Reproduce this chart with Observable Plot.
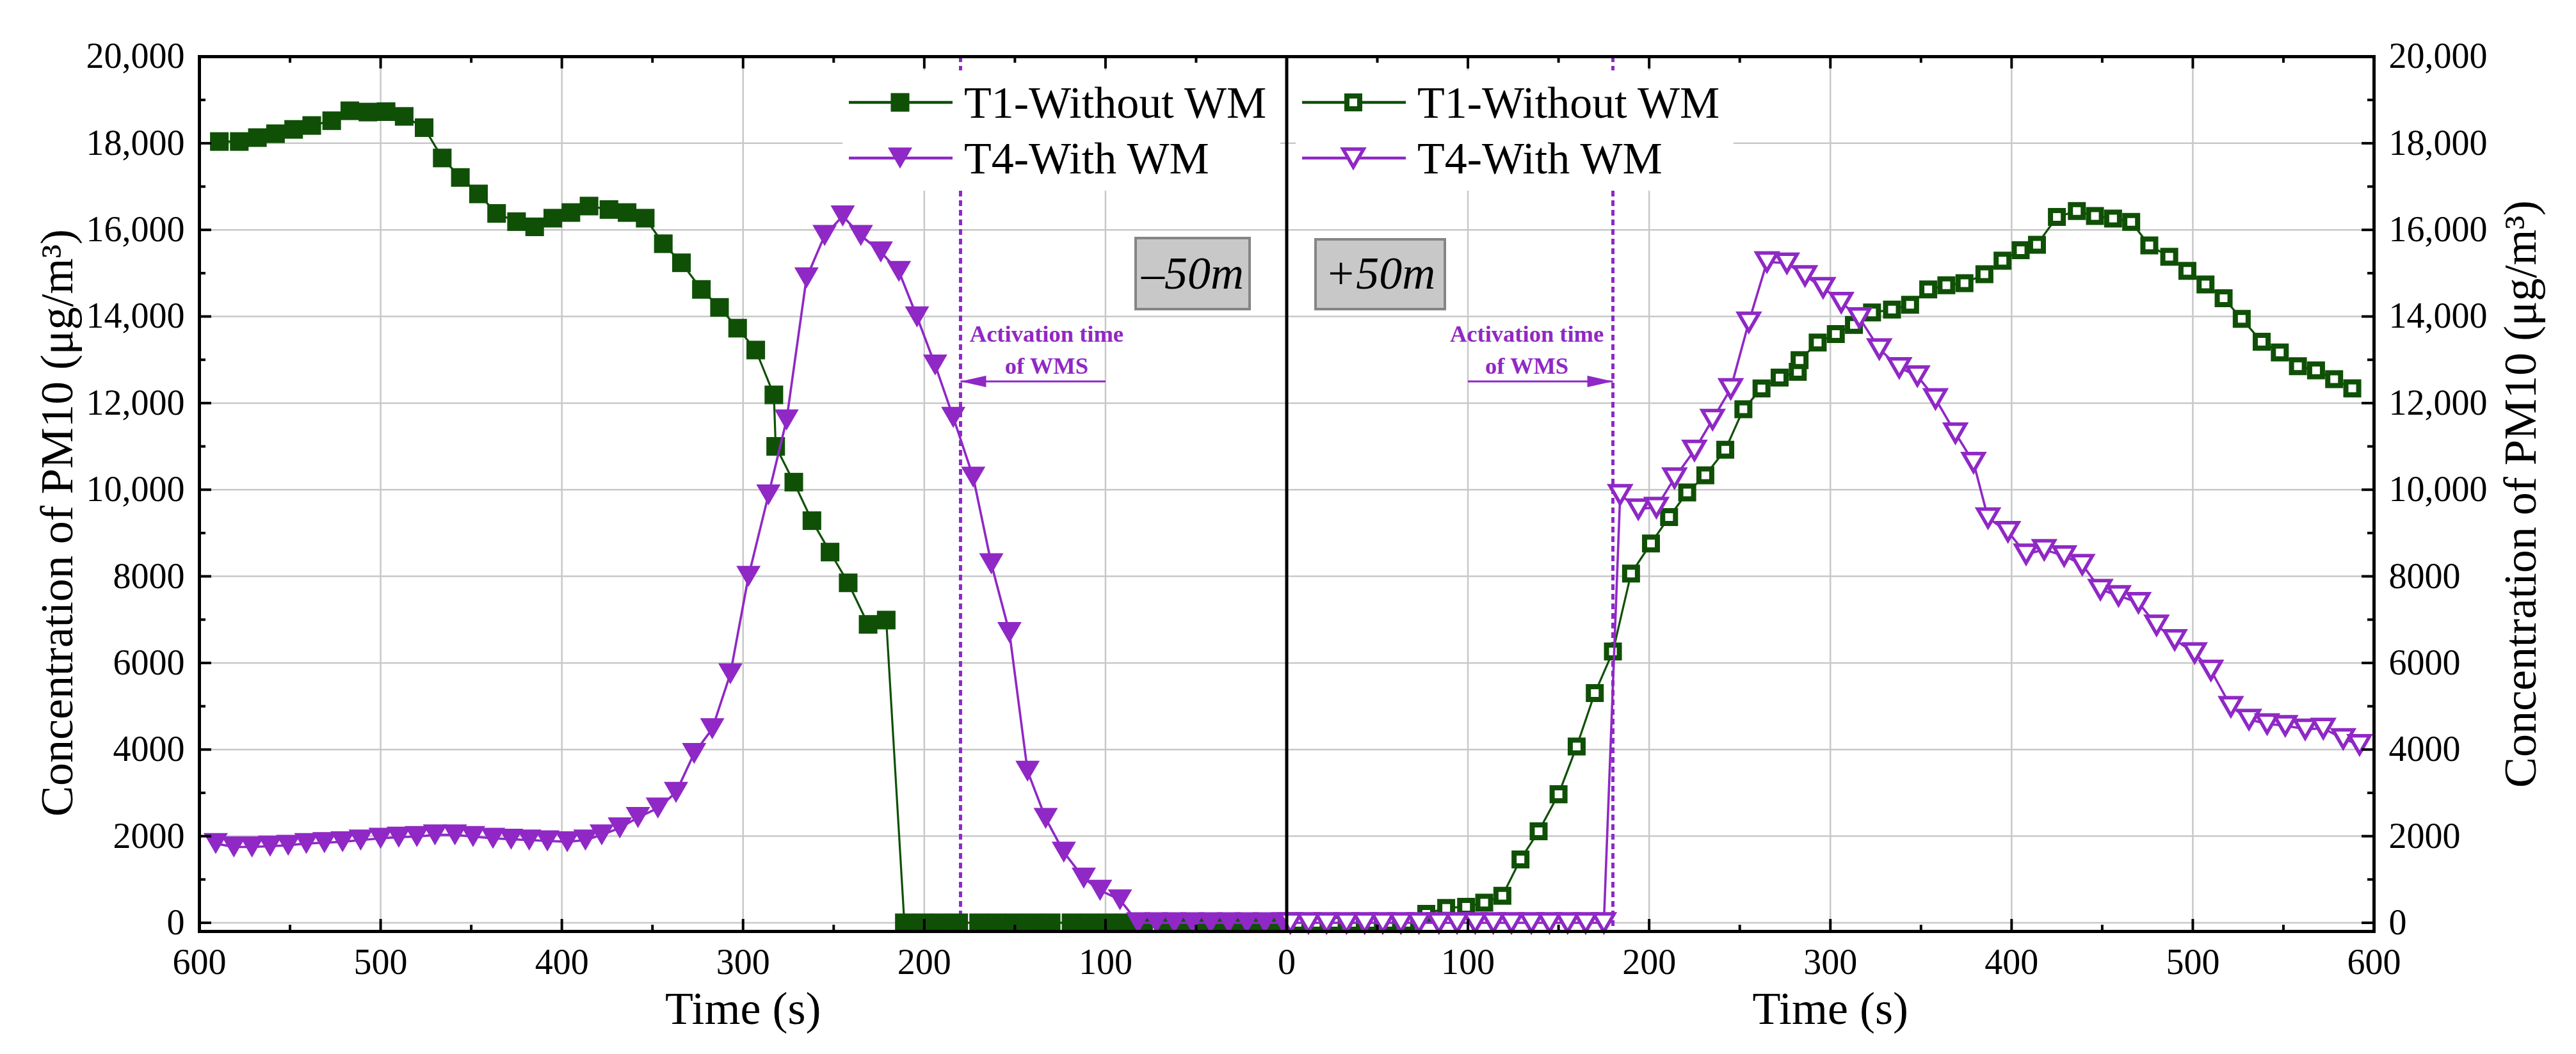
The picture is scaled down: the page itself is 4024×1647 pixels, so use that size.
<!DOCTYPE html>
<html>
<head>
<meta charset="utf-8">
<script src="https://cdn.jsdelivr.net/npm/d3@7"></script>
<script src="https://cdn.jsdelivr.net/npm/@observablehq/plot@0.6"></script>
<style>
  html, body { margin: 0; padding: 0; background: #fff; }
  #chart { position: relative; width: 4024px; height: 1647px; }
</style>
</head>
<body>
<div id="chart"></div>
<script>
// ---------------- DATA ----------------
// Left panel (-50 m): time runs 600 -> 0 from left to right
const leftT1Time = [589,578,568,558,548,538,527,517,507,497,487,476,466,456,446,436,425,415,405,395,385,374,364,354,344,334,323,313,303,293,283,282,272,262,252,242,231,221,211,201,191,181,170,160,150,140,130,119,109,99,89,79,68,58,48,38,28,17,7];
const leftT1Value = [18040,18040,18130,18220,18320,18410,18520,18750,18720,18730,18620,18360,17660,17210,16830,16380,16190,16070,16270,16400,16550,16470,16400,16270,15680,15240,14625,14210,13730,13225,12190,11000,10175,9285,8560,7850,6890,6990,0,0,0,0,0,0,0,0,0,0,0,0,0,0,0,0,0,0,0,0,0];

const leftT4Time = [591,581,571,561,551,541,531,521,511,500,490,480,470,459,449,438,428,418,408,397,387,378,368,358,347,337,327,317,307,297,286,276,265,255,245,235,224,214,204,194,184,173,163,153,143,133,123,112,103,92,82,72,62,52,42,32,22,12,2];
const leftT4Value = [1830,1750,1750,1770,1790,1830,1850,1870,1910,1950,1975,1990,2030,2030,1990,1950,1930,1910,1890,1870,1910,2030,2190,2430,2650,3010,3910,4480,5750,8000,9880,11610,14890,15870,16320,15870,15490,15040,13990,12880,11670,10290,8290,6700,3500,2410,1630,1030,750,530,0,0,0,0,0,0,0,0,0];

// Right panel (+50 m): time runs 0 -> 600 from left to right
const rightT1Time = [6,16,26,36,46,56,66,77,88,99,109,119,129,139,150,160,170,180,190,201,211,221,231,242,252,262,272,282,283,293,303,313,323,334,344,354,364,374,385,395,405,414,425,436,446,456,466,476,487,497,507,517,527,538,548,558,568,578,588];
const rightT1Value = [0,0,0,0,0,0,0,208,344,368,464,624,1464,2112,2968,4072,5304,6264,8064,8760,9369,9936,10331,10922,11859,12337,12588,12722,12993,13397,13594,13806,14092,14160,14270,14625,14720,14770,14975,15288,15530,15657,16298,16434,16321,16261,16185,15642,15379,15054,14738,14421,13946,13418,13169,12853,12755,12551,12340];

const rightT4Time = [2,12,22,33,43,53,63,73,84,94,104,114,124,135,145,155,165,175,184,194,204,214,225,235,245,255,265,276,286,296,306,316,327,338,348,358,369,379,387,398,408,418,429,439,449,459,470,480,490,501,510,521,531,541,551,562,572,583,592];
const rightT4Value = [0,0,0,0,0,0,0,0,0,0,0,0,0,0,0,0,0,0,9887,9556,9591,10271,10912,11622,12332,13870,15261,15231,14940,14669,14324,13969,13254,12815,12627,12099,11308,10629,9347,9032,8512,8616,8472,8272,7696,7552,7392,6872,6536,6232,5832,4992,4696,4592,4552,4472,4488,4248,4112];

// Series names, panel labels, annotation
const seriesNames = ["T1-Without WM", "T4-With WM"];
const panelLabels = ["\u201350m", "+50m"];
const activationTime = 180;          // s, WMS switched on
const activationArrowFrom = 100;     // s
const activationArrowLevel = 12500;  // µg/m3
const activationTextTime = 132.5;
const activationTextLevels = [13424, 12685];
const activationText = ["Activation time", "of WMS"];

// Axes
const xTickLabels = [-600,-500,-400,-300,-200,-100,0,100,200,300,400,500,600];
const xMajorTicks = [-500,-400,-300,-200,-100,100,200,300,400,500];
const xMinorTicks = [-550,-450,-350,-250,-150,-50,50,150,250,350,450,550];
const yTickLabels = [0,2000,4000,6000,8000,10000,12000,14000,16000,18000,20000];
const yMajorTicks = [0,2000,4000,6000,8000,10000,12000,14000,16000,18000];
const yMinorTicks = [1000,3000,5000,7000,9000,11000,13000,15000,17000,19000];
const xTitle = "Time (s)";
const xTitleCenters = [-300, 300];
const yTitle = "Concentration of PM10 (\u03bcg/m\u00b3)";

// ---------------- STYLE / LAYOUT ----------------
const GREEN = "#0f5006";
const PURPLE = "#8f28c5";
const GRID = "#c8c8c8";
const W = 4024, H = 1647, ML = 311, MR = 316, MT = 88, MB = 192;
const PW = W - ML - MR, PH = H - MT - MB;
const FONT = "'Liberation Serif', 'Times New Roman', serif";

// sign: -1 puts a series on the left (mirrored) panel, +1 on the right panel
const toRows = (times, values, sign) => times.map((t, i) => ({x: sign * t, v: values[i]}));
const leftT1 = toRows(leftT1Time, leftT1Value, -1);
const leftT4 = toRows(leftT4Time, leftT4Value, -1);
const rightT1 = toRows(rightT1Time, rightT1Value, 1);
const rightT4 = toRows(rightT4Time, rightT4Value, 1);

const activationRules = [-activationTime, activationTime];
const arrows = [
  {x1: -activationArrowFrom, x2: -activationTime, y: activationArrowLevel, dir: "left"},
  {x1: activationArrowFrom, x2: activationTime, y: activationArrowLevel, dir: "right"}
];
const activationLabels = [];
for (const s of [-1, 1]) activationText.forEach((t, i) => activationLabels.push({x: s * activationTextTime, y: activationTextLevels[i], text: t}));

// symbols
const triDown = {
  draw(ctx, size) {
    const s = Math.sqrt(size / (3 * Math.sqrt(3)));
    const w = Math.sqrt(3) * s, h = 1.5 * s;
    ctx.moveTo(-w, -h); ctx.lineTo(w, -h); ctx.lineTo(0, h); ctx.closePath();
  }
};
const headLeft = {draw(ctx) { ctx.moveTo(0, 0); ctx.lineTo(40, -9); ctx.lineTo(40, 9); ctx.closePath(); }};
const headRight = {draw(ctx) { ctx.moveTo(0, 0); ctx.lineTo(-40, -9); ctx.lineTo(-40, 9); ctx.closePath(); }};

const yFmt = d => d >= 10000 ? d3.format(",")(d) : String(d);

const R_FSQ = 16.4, R_FTRI = 14.1, R_OSQ = 11.3, R_OTRI = 11.9;

const chart = Plot.plot({
  width: W, height: H,
  marginLeft: ML, marginRight: MR, marginTop: MT, marginBottom: MB,
  x: {domain: [-600, 600]},
  y: {domain: [-200, 20000]},
  style: {fontFamily: FONT, fontSize: "56px", color: "black", background: "white", overflow: "visible"},
  marks: [
    // grid
    Plot.ruleX(xMajorTicks, {stroke: GRID, strokeWidth: 2.5}),
    Plot.ruleY(yMajorTicks, {stroke: GRID, strokeWidth: 2.5}),
    // activation time
    Plot.ruleX(activationRules, {stroke: PURPLE, strokeWidth: 5, strokeDasharray: "9,6"}),
    Plot.link(arrows, {x1: "x1", x2: "x2", y1: "y", y2: "y", stroke: PURPLE, strokeWidth: 3}),
    Plot.dot(arrows.filter(d => d.dir === "left"), {x: "x2", y: "y", symbol: headLeft, fill: PURPLE, stroke: "none"}),
    Plot.dot(arrows.filter(d => d.dir === "right"), {x: "x2", y: "y", symbol: headRight, fill: PURPLE, stroke: "none"}),
    Plot.text(activationLabels, {x: "x", y: "y", text: "text", fill: PURPLE, fontWeight: "bold", fontSize: 36.5, lineAnchor: "bottom", textAnchor: "middle"}),
    // series
    Plot.line(leftT1, {x: "x", y: "v", stroke: GREEN, strokeWidth: 3.2}),
    Plot.dot(leftT1, {x: "x", y: "v", symbol: "square", r: R_FSQ, fill: GREEN, stroke: "none"}),
    Plot.line(leftT4, {x: "x", y: "v", stroke: PURPLE, strokeWidth: 3.6}),
    Plot.dot(leftT4, {x: "x", y: "v", symbol: triDown, r: R_FTRI, fill: PURPLE, stroke: "none"}),
    Plot.line(rightT1, {x: "x", y: "v", stroke: GREEN, strokeWidth: 3.2}),
    Plot.dot(rightT1, {x: "x", y: "v", symbol: "square", r: R_OSQ, fill: "white", stroke: GREEN, strokeWidth: 8}),
    Plot.line(rightT4, {x: "x", y: "v", stroke: PURPLE, strokeWidth: 3.6}),
    Plot.dot(rightT4, {x: "x", y: "v", symbol: triDown, r: R_OTRI, fill: "white", stroke: PURPLE, strokeWidth: 5.5}),
    // panel divider & frame
    Plot.ruleX([0], {stroke: "black", strokeWidth: 5}),
    Plot.frame({stroke: "black", strokeWidth: 5}),
    // inward ticks
    Plot.ruleX(xMajorTicks, {stroke: "black", strokeWidth: 4, insetTop: PH - 19}),
    Plot.ruleX(xMinorTicks, {stroke: "black", strokeWidth: 4, insetTop: PH - 10}),
    Plot.ruleX(xMajorTicks, {stroke: "black", strokeWidth: 4, insetBottom: PH - 19}),
    Plot.ruleX(xMinorTicks, {stroke: "black", strokeWidth: 4, insetBottom: PH - 10}),
    Plot.ruleY(yMajorTicks, {stroke: "black", strokeWidth: 4, insetRight: PW - 19}),
    Plot.ruleY(yMinorTicks, {stroke: "black", strokeWidth: 4, insetRight: PW - 10}),
    Plot.ruleY(yMajorTicks, {stroke: "black", strokeWidth: 4, insetLeft: PW - 19}),
    Plot.ruleY(yMinorTicks, {stroke: "black", strokeWidth: 4, insetLeft: PW - 10}),
    // tick labels
    Plot.axisX({anchor: "bottom", ticks: xTickLabels, tickFormat: d => String(Math.abs(d)), tickSize: 0, tickPadding: 27, fontSize: 56, label: null}),
    Plot.axisY({anchor: "left", ticks: yTickLabels, tickFormat: yFmt, tickSize: 0, tickPadding: 23, fontSize: 56, label: null}),
    Plot.axisY({anchor: "right", ticks: yTickLabels, tickFormat: yFmt, tickSize: 0, tickPadding: 23, fontSize: 56, label: null}),
    // axis titles
    Plot.text(xTitleCenters, {x: d => d, text: () => xTitle, frameAnchor: "bottom", dy: 144, lineAnchor: "bottom", textAnchor: "middle", fontSize: 72}),
    Plot.text([yTitle], {text: d => d, frameAnchor: "left", rotate: -90, dx: -199, dy: 45, lineAnchor: "bottom", textAnchor: "middle", fontSize: 72}),
    Plot.text([yTitle], {text: d => d, frameAnchor: "right", rotate: -90, dx: 252, dy: 0, lineAnchor: "bottom", textAnchor: "middle", fontSize: 72})
  ]
});

document.getElementById("chart").appendChild(chart);

// ---------------- in-plot legends and panel labels ----------------
const svg = d3.select(chart);
const g = svg.append("g").attr("font-family", FONT);

function legend(x0, filled) {
  g.append("rect").attr("x", x0).attr("y", 110).attr("width", 684).attr("height", 188).attr("fill", "white");
  const rows = [
    {y: 160, color: GREEN, sym: d3.symbolSquare, r: filled ? R_FSQ : R_OSQ, sw: 8, name: seriesNames[0]},
    {y: 247, color: PURPLE, sym: triDown, r: filled ? R_FTRI : R_OTRI, sw: 5.5, name: seriesNames[1]}
  ];
  for (const row of rows) {
    g.append("line").attr("x1", x0 + 10).attr("x2", x0 + 172).attr("y1", row.y).attr("y2", row.y)
      .attr("stroke", row.color).attr("stroke-width", 4.5);
    const p = g.append("path")
      .attr("d", d3.symbol(row.sym, Math.PI * row.r * row.r)())
      .attr("transform", `translate(${x0 + 90},${row.y})`);
    if (filled) p.attr("fill", row.color);
    else p.attr("fill", "white").attr("stroke", row.color).attr("stroke-width", row.sw);
    g.append("text").attr("x", x0 + 190).attr("y", row.y + 24).attr("font-size", 70)
      .attr("text-anchor", "start").attr("fill", "black").text(row.name);
  }
}
legend(1316, true);
legend(2024, false);

function panelLabel(x, y, w, h, label) {
  g.append("rect").attr("x", x).attr("y", y).attr("width", w).attr("height", h)
    .attr("fill", "#c8c8c8").attr("stroke", "#858585").attr("stroke-width", 4);
  g.append("text").attr("x", x + w / 2).attr("y", 451).attr("font-size", 72).attr("font-style", "italic")
    .attr("text-anchor", "middle").attr("fill", "black").text(label);
}
panelLabel(1774, 372, 178, 111, panelLabels[0]);
panelLabel(2055, 374, 202, 109, panelLabels[1]);
</script>
</body>
</html>
